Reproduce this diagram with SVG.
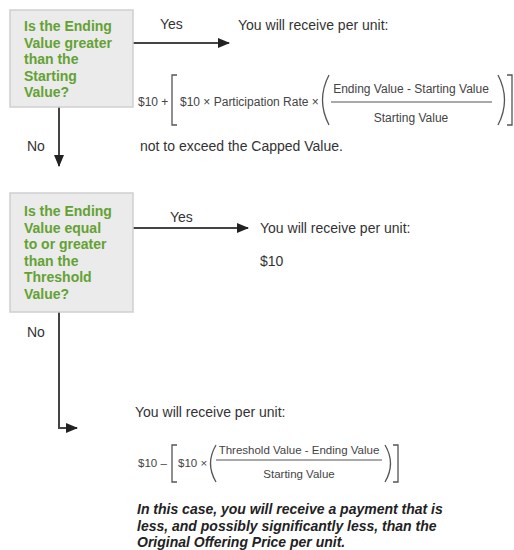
<svg xmlns="http://www.w3.org/2000/svg" width="514" height="550" viewBox="0 0 514 550">
<defs>
<marker id="ah" markerUnits="userSpaceOnUse" markerWidth="12" markerHeight="10" refX="11" refY="5" orient="auto">
<path d="M0,0 L12,5 L0,10 Z" fill="#222"/>
</marker>
<style>
.box{fill:#ebebeb;stroke:#cfcfcf;stroke-width:1.5}
.q{font-family:"Liberation Sans",Arial,sans-serif;font-size:14px;font-weight:bold;fill:#63a232}
.t{font-family:"Liberation Sans",Arial,sans-serif;font-size:14px;fill:#333}
.f{font-family:"Liberation Sans",Arial,sans-serif;font-size:12px;fill:#444}
.f2{font-family:"Liberation Sans",Arial,sans-serif;font-size:11.5px;fill:#444}
.bi{font-family:"Liberation Sans",Arial,sans-serif;font-size:14px;font-weight:bold;font-style:italic;fill:#222}
.c{fill:none;stroke:#444;stroke-width:2}
.br{fill:none;stroke:#555;stroke-width:1.3}
</style>
</defs>
<rect width="514" height="550" fill="#fff"/>

<g id="connectors">
<line class="c" x1="133" y1="43" x2="229" y2="43" marker-end="url(#ah)"/>
<line class="c" x1="59" y1="107" x2="59" y2="166" marker-end="url(#ah)"/>
<line class="c" x1="133" y1="228" x2="248" y2="228" marker-end="url(#ah)"/>
<path class="c" d="M59,312 V428 H77" marker-end="url(#ah)"/>
<text class="t" x="160" y="29">Yes</text>
<text class="t" x="27" y="151">No</text>
<text class="t" x="170" y="222">Yes</text>
<text class="t" x="27" y="337">No</text>
</g>

<g id="decision1">
<rect class="box" x="10" y="10" width="123" height="97"/>
<text class="q" x="24" y="31">Is the Ending</text>
<text class="q" x="24" y="47.5">Value greater</text>
<text class="q" x="24" y="64">than the</text>
<text class="q" x="24" y="80.5">Starting</text>
<text class="q" x="24" y="97">Value?</text>
</g>

<g id="result1">
<text class="t" x="238" y="30">You will receive per unit:</text>
<text class="f" x="138" y="106">$10  +</text>
<path class="br" d="M177,75 H172 V125 H177"/>
<text class="f" x="180" y="106">$10 × Participation Rate ×</text>
<path class="br" d="M329,75 Q316,100 329,125"/>
<text class="f" x="411" y="92.5" text-anchor="middle">Ending Value - Starting Value</text>
<line x1="331" y1="102" x2="492" y2="102" stroke="#555" stroke-width="1.2"/>
<text class="f" x="411" y="122" text-anchor="middle">Starting Value</text>
<path class="br" d="M498,75 Q511,100 498,125"/>
<path class="br" d="M507,75 H512 V125 H507"/>
<text class="t" x="140" y="151">not to exceed the Capped Value.</text>
</g>

<g id="decision2">
<rect class="box" x="10" y="193" width="123" height="119"/>
<text class="q" x="24" y="216">Is the Ending</text>
<text class="q" x="24" y="232.5">Value equal</text>
<text class="q" x="24" y="249">to or greater</text>
<text class="q" x="24" y="265.5">than the</text>
<text class="q" x="24" y="282">Threshold</text>
<text class="q" x="24" y="298.5">Value?</text>
</g>

<g id="result2">
<text class="t" x="260" y="233">You will receive per unit:</text>
<text class="t" x="260" y="266">$10</text>
</g>

<g id="result3">
<text class="t" x="135" y="417">You will receive per unit:</text>
<text class="f2" x="138" y="467">$10  –</text>
<path class="br" d="M177,445 H172 V482 H177"/>
<text class="f2" x="178" y="467">$10 ×</text>
<path class="br" d="M216,445 Q205,463.5 216,482"/>
<text class="f2" x="299" y="454" text-anchor="middle">Threshold Value - Ending Value</text>
<line x1="216" y1="460" x2="382" y2="460" stroke="#555" stroke-width="1.2"/>
<text class="f2" x="299" y="477.5" text-anchor="middle">Starting Value</text>
<path class="br" d="M385,445 Q396,463.5 385,482"/>
<path class="br" d="M393,445 H398 V482 H393"/>
<text class="bi" x="137" y="514">In this case, you will receive a payment that is</text>
<text class="bi" x="137" y="530.5">less, and possibly significantly less, than the</text>
<text class="bi" x="137" y="547">Original Offering Price per unit.</text>
</g>
</svg>
